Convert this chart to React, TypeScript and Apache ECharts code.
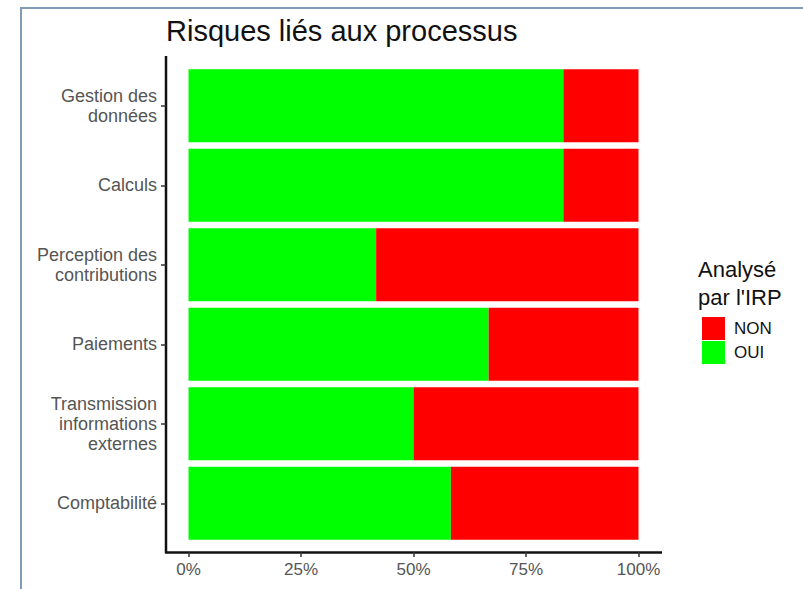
import React, { useEffect, useRef } from "react";
import * as echarts from "echarts";

const categories = [
  "Gestion des\ndonnées",
  "Calculs",
  "Perception des\ncontributions",
  "Paiements",
  "Transmission\ninformations\nexternes",
  "Comptabilité",
];
const ouiValues = [83.3, 83.3, 41.7, 66.7, 50.0, 58.3];
const nonValues = [16.7, 16.7, 58.3, 33.3, 50.0, 41.7];
const legendNames = ["NON", "OUI"];
const xTicks = [0, 25, 50, 75, 100];
const titleText = "Risques liés aux processus";
const legendTitle = "Analysé\npar l'IRP";

const FONT = "'Liberation Sans', Arial, sans-serif";

export default function App() {
  const ref = useRef<HTMLDivElement>(null);
  useEffect(() => {
    if (!ref.current) return;
    const chart = echarts.init(ref.current, null, { renderer: "svg" });
    chart.setOption({
      animation: false,
      backgroundColor: "#ffffff",
      title: [
        {
          text: titleText,
          left: 161,
          top: 11,
          textStyle: { fontFamily: FONT, fontSize: 29, fontWeight: "normal", color: "#111" },
        },
        {
          text: legendTitle,
          left: 693,
          top: 250,
          textStyle: {
            fontFamily: FONT,
            fontSize: 22,
            fontWeight: "normal",
            color: "#111",
            lineHeight: 28,
          },
        },
      ],
      legend: {
        data: legendNames,
        orient: "vertical",
        left: 697,
        top: 312,
        itemWidth: 23,
        itemHeight: 23,
        itemGap: 1,
        icon: "rect",
        textStyle: { fontFamily: FONT, fontSize: 17, color: "#111", padding: [0, 0, 0, 4] },
      },
      grid: { left: 166, width: 495, top: 66, height: 477 },
      xAxis: {
        type: "value",
        min: -5,
        max: 105,
        offset: 9,
        axisLine: { show: false, onZero: false },
        axisTick: {
          show: true,
          length: 5,
          customValues: xTicks,
          lineStyle: { color: "#333", width: 1.5 },
        },
        axisLabel: {
          customValues: xTicks,
          formatter: "{value}%",
          fontFamily: FONT,
          fontSize: 17,
          color: "#555",
          margin: 9,
        },
        splitLine: { show: false },
      },
      yAxis: {
        type: "category",
        data: categories,
        inverse: true,
        axisLine: { show: false, onZero: false },
        axisTick: { show: true, alignWithLabel: true, length: 5, lineStyle: { color: "#333", width: 1.5 } },
        axisLabel: {
          fontFamily: FONT,
          fontSize: 18,
          color: "#555",
          margin: 9,
          lineHeight: 20,
          align: "right",
        },
      },
      series: [
        {
          name: "OUI",
          type: "bar",
          stack: "total",
          data: ouiValues,
          barWidth: "92%",
          itemStyle: { color: "#00ff00" },
        },
        {
          name: "NON",
          type: "bar",
          stack: "total",
          data: nonValues,
          barWidth: "92%",
          itemStyle: { color: "#ff0000" },
        },
      ],
      graphic: [
        {
          type: "rect",
          shape: { x: 21, y: 8, width: 800, height: 600 },
          style: { fill: "none", stroke: "#7f9bb5", lineWidth: 2 },
          silent: true,
        },
        {
          type: "line",
          shape: { x1: 166, y1: 56, x2: 166, y2: 553 },
          style: { stroke: "#111", lineWidth: 2.5 },
          silent: true,
        },
        {
          type: "line",
          shape: { x1: 165, y1: 552.5, x2: 662, y2: 552.5 },
          style: { stroke: "#111", lineWidth: 2.5 },
          silent: true,
        },
      ],
    });
    return () => chart.dispose();
  }, []);
  return (
    <div
      ref={ref}
      style={{ position: "fixed", left: 0, top: 0, width: 803, height: 589 }}
    />
  );
}
